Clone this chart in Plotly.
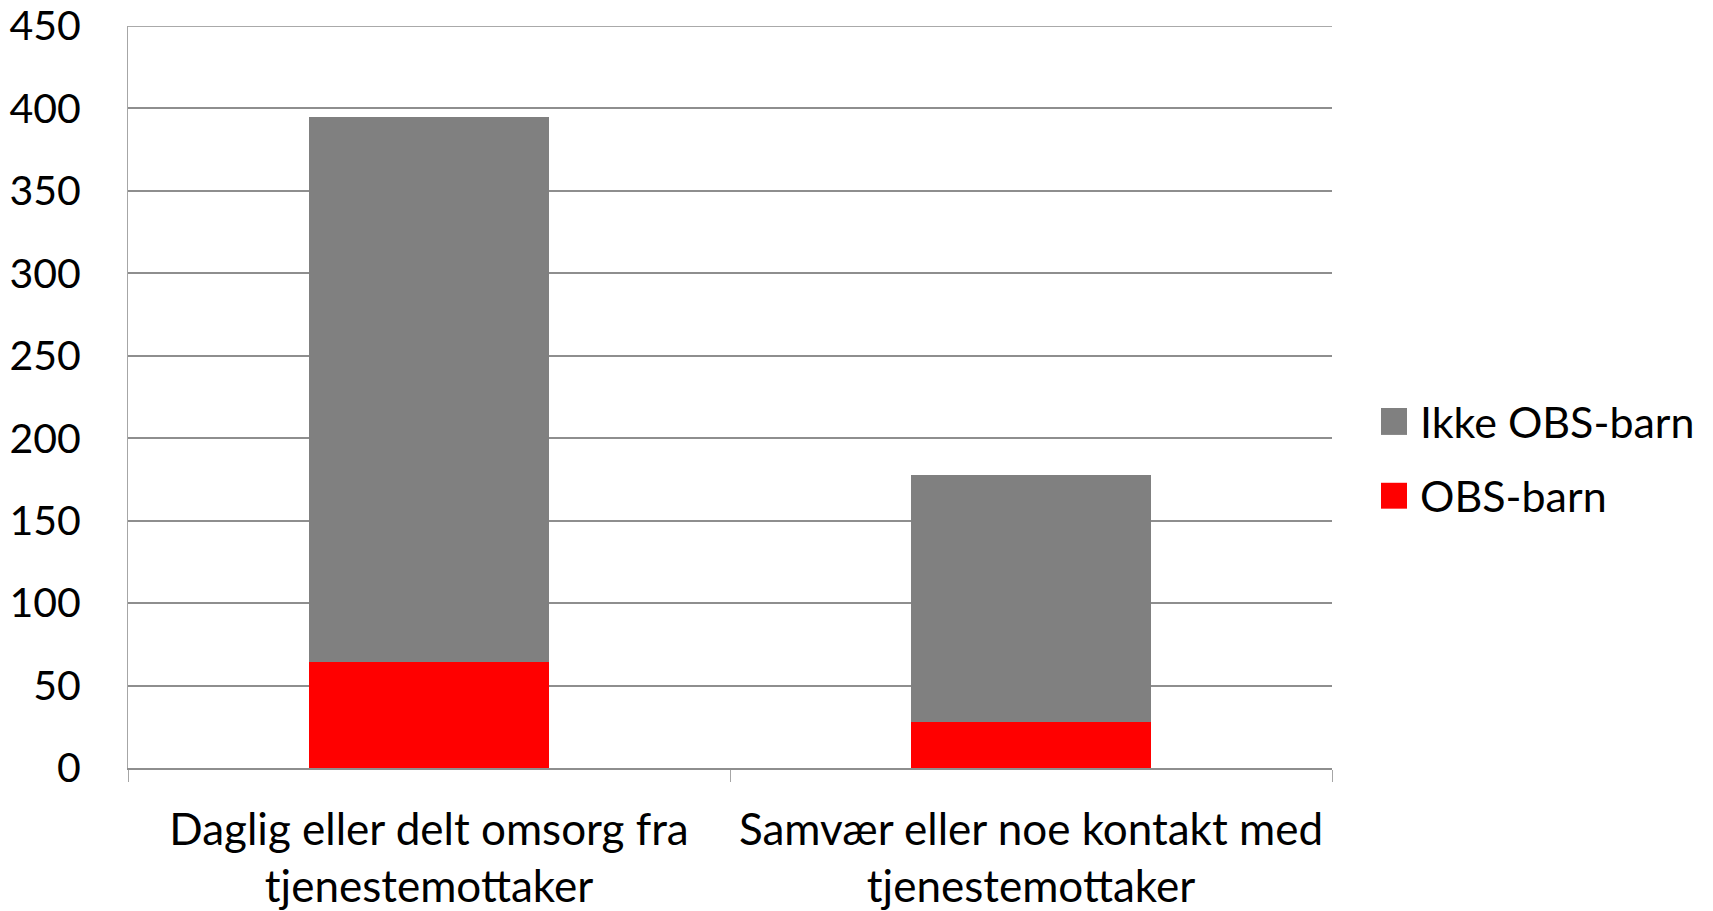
import plotly.graph_objects as go

categories = ["Daglig eller delt omsorg fra<br>tjenestemottaker",
              "Samvær eller noe kontakt med<br>tjenestemottaker"]
series_names = ["OBS-barn", "Ikke OBS-barn"]
obs_barn = [64, 28]
ikke_obs_barn = [331, 150]
series_colors = ["#FF0000", "#808080"]
y_ticks = [0, 50, 100, 150, 200, 250, 300, 350, 400, 450]

FONT = "Lato, Carlito, Calibri, sans-serif"

fig = go.Figure()
for name, vals, col in zip(series_names, [obs_barn, ikke_obs_barn], series_colors):
    fig.add_trace(go.Bar(x=categories, y=vals, name=name, marker_color=col,
                         marker_line_width=0, showlegend=False))

# manual legend (large square swatches like the original)
leg_items = [(series_names[1], series_colors[1], 0.4489, 0.4852),
             (series_names[0], series_colors[0], 0.3495, 0.3844)]
for name, col, y0, y1 in leg_items:
    fig.add_shape(type="rect", xref="paper", yref="paper", x0=1.0407, x1=1.0623,
                  y0=y0, y1=y1, fillcolor=col, line_width=0)
    fig.add_annotation(xref="paper", yref="paper", x=1.0715, y=(y0 + y1) / 2,
                       text=name, showarrow=False, xanchor="left", yanchor="middle",
                       font=dict(family=FONT, size=43, color="#000000"))

# 450 gridline (plotly drops grid lines lying on the plot edge)
fig.add_hline(y=y_ticks[-1], line_color="#8e8e8e", line_width=1.5)

fig.update_layout(
    barmode="stack",
    bargap=0.6,
    width=1713, height=911,
    margin=dict(l=128, r=381, t=26, b=143),
    paper_bgcolor="white", plot_bgcolor="white",
    font=dict(family=FONT, size=41, color="#000000"),
    showlegend=False,
)
fig.update_yaxes(range=[0, 450], tickvals=y_ticks, showgrid=True,
                 gridcolor="#8e8e8e", gridwidth=1.5, zeroline=False,
                 showline=True, linecolor="#a6a6a6", linewidth=1,
                 ticks="", ticklabelstandoff=38, automargin=False,
                 ticklabeloverflow="allow",
                 tickfont=dict(family=FONT, size=41, color="#000000"))
fig.update_xaxes(showline=True, linecolor="#8e8e8e", linewidth=1.5,
                 ticks="outside", tickson="boundaries", ticklen=12,
                 tickcolor="#a6a6a6", tickwidth=1, showgrid=False,
                 ticklabelstandoff=22, automargin=False,
                 ticklabeloverflow="allow",
                 tickfont=dict(family=FONT, size=44, color="#000000"))

fig.write_html("out.html",
               config={"displayModeBar": False},
               post_script="document.body.style.margin='0';document.body.style.overflow='hidden';")
